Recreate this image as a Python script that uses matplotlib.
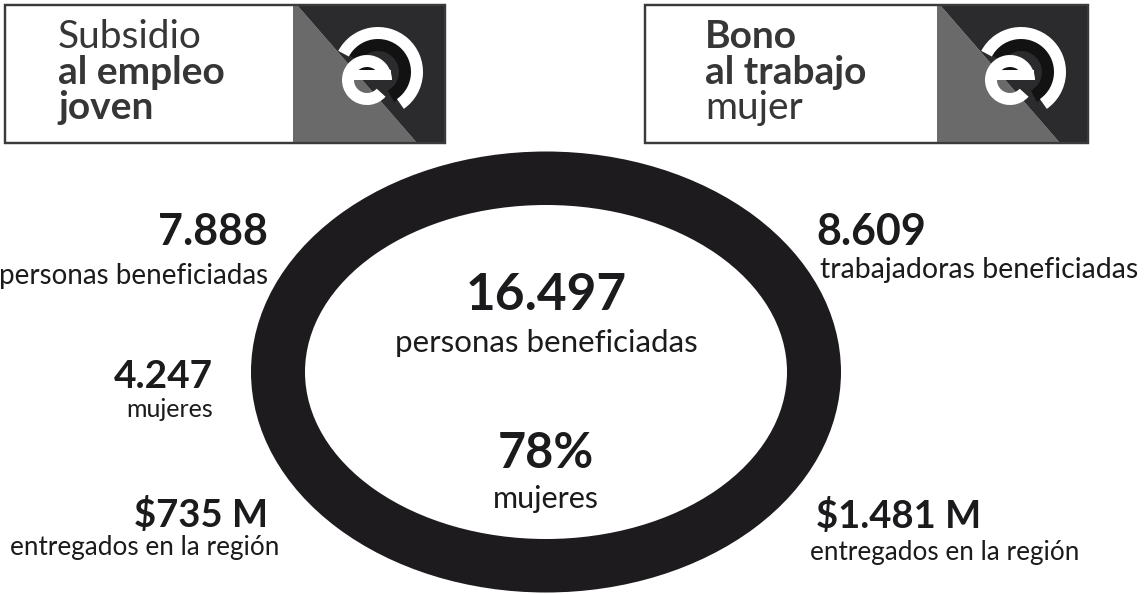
import matplotlib
matplotlib.use("Agg")
import matplotlib.pyplot as plt
from matplotlib.patches import Ellipse, Polygon, Rectangle, Wedge

plt.rcParams['font.family'] = ['Lato', 'DejaVu Sans']

# ---- data ----
program_left = ["Subsidio", "al empleo", "joven"]
program_left_weights = ["normal", "bold", "bold"]
program_right = ["Bono", "al trabajo", "mujer"]
program_right_weights = ["bold", "bold", "normal"]

left_values = ["7.888", "4.247", "$735 M"]
left_labels = ["personas beneficiadas", "mujeres", "entregados en la región"]
right_values = ["8.609", "$1.481 M"]
right_labels = ["trabajadoras beneficiadas", "entregados en la región"]
center_values = ["16.497", "78%"]
center_labels = ["personas beneficiadas", "mujeres"]

TXT = "#1b1a1c"
RING = "#1d1b1e"

W, H = 1144, 594
fig = plt.figure(figsize=(W / 100, H / 100), dpi=100)
ax = fig.add_axes([0, 0, 1, 1])
ax.set_xlim(0, W)
ax.set_ylim(H, 0)
ax.axis("off")


def wedge(cx, cy, r, a1, a2, width, color, z):
    # visual angles (counter-clockwise, y up) -> inverted data axis
    ax.add_patch(Wedge((cx, cy), r, -a2, -a1, width=width, facecolor=color,
                       edgecolor="none", zorder=z))


def logo_box(x0, x1, split, ox, lines, weights, tx):
    y0, y1 = 5, 143
    d_top, d_bot = ox + 297, ox + 417
    ax.add_patch(Rectangle((x0, y0), x1 - x0, y1 - y0, facecolor="white",
                           edgecolor="#3a3a3a", lw=1.6, zorder=1))
    ax.add_patch(Polygon([(split, y0), (d_top, y0), (d_bot, y1), (split, y1)],
                         closed=True, facecolor="#6a6a6a", edgecolor="none", zorder=2))
    ax.add_patch(Polygon([(d_top, y0), (x1, y0), (x1, y1), (d_bot, y1)],
                         closed=True, facecolor="#2b2b2d", edgecolor="none", zorder=2))
    ax.add_patch(Rectangle((x0, y0), x1 - x0, y1 - y0, facecolor="none",
                           edgecolor="#3a3a3a", lw=1.6, zorder=9))
    # stylised spiral "e"
    ocx, ocy = ox + 378, 72
    icx, icy = ox + 367, 80
    wedge(ocx, ocy, 34, -62, 150, 13, "#121212", 3)      # dark band
    wedge(ocx, ocy, 45, -55, 152, 12, "white", 4)        # outer white arc
    wedge(icx, icy, 13, 0, 180, None, "#121212", 4)      # eye of the e
    wedge(icx, icy, 25, 0, 318, 12, "white", 5)          # inner white "c"
    ax.add_patch(Rectangle((icx - 14, icy - 10), 38, 10, facecolor="white",
                           edgecolor="none", zorder=5))  # crossbar
    baselines = [48, 84, 119]
    for s, w, b in zip(lines, weights, baselines):
        ax.text(tx, b, s, fontsize=28, fontweight=w, color="#363636",
                ha="left", va="baseline", zorder=7)


logo_box(5, 445, 293, 0, program_left, program_left_weights, 58)
logo_box(645, 1088, 937, 643, program_right, program_right_weights, 705)

# ---- ring ----
cx, cy = 546, 372
ax.add_patch(Ellipse((cx, cy), 590, 441, facecolor=RING, edgecolor="none", zorder=1))
ax.add_patch(Ellipse((cx, cy), 482, 334, facecolor="white", edgecolor="none", zorder=2))

# ---- center texts ----
ax.text(cx, 310, center_values[0], fontsize=37, fontweight="bold", color=TXT,
        ha="center", va="baseline", zorder=5)
ax.text(cx, 352, center_labels[0], fontsize=22.5, color=TXT,
        ha="center", va="baseline", zorder=5)
ax.text(cx, 468, center_values[1], fontsize=35, fontweight="bold", color=TXT,
        ha="center", va="baseline", zorder=5)
ax.text(cx, 508, center_labels[1], fontsize=22, color=TXT,
        ha="center", va="baseline", zorder=5)

# ---- left column ----
left_pos = [  # (x, value baseline, label x, label baseline, value size, label size)
    (268, 245, 268, 284, 31, 20),
    (213, 388, 213, 417, 28, 18),
    (268, 527, 279, 555, 27.5, 18.8),
]
for (x, vb, lx, lb, vs, ls), v, l in zip(left_pos, left_values, left_labels):
    ax.text(x, vb, v, fontsize=vs, fontweight="bold", color=TXT,
            ha="right", va="baseline", zorder=5)
    ax.text(lx, lb, l, fontsize=ls, color=TXT, ha="right", va="baseline", zorder=5)

# ---- right column ----
right_pos = [
    (816, 245, 820, 278, 31, 20.5),
    (816, 528, 810, 560, 27.5, 18.8),
]
for (x, vb, lx, lb, vs, ls), v, l in zip(right_pos, right_values, right_labels):
    ax.text(x, vb, v, fontsize=vs, fontweight="bold", color=TXT,
            ha="left", va="baseline", zorder=5)
    ax.text(lx, lb, l, fontsize=ls, color=TXT, ha="left", va="baseline", zorder=5)

fig.savefig("out.png", dpi=100, facecolor="white")
